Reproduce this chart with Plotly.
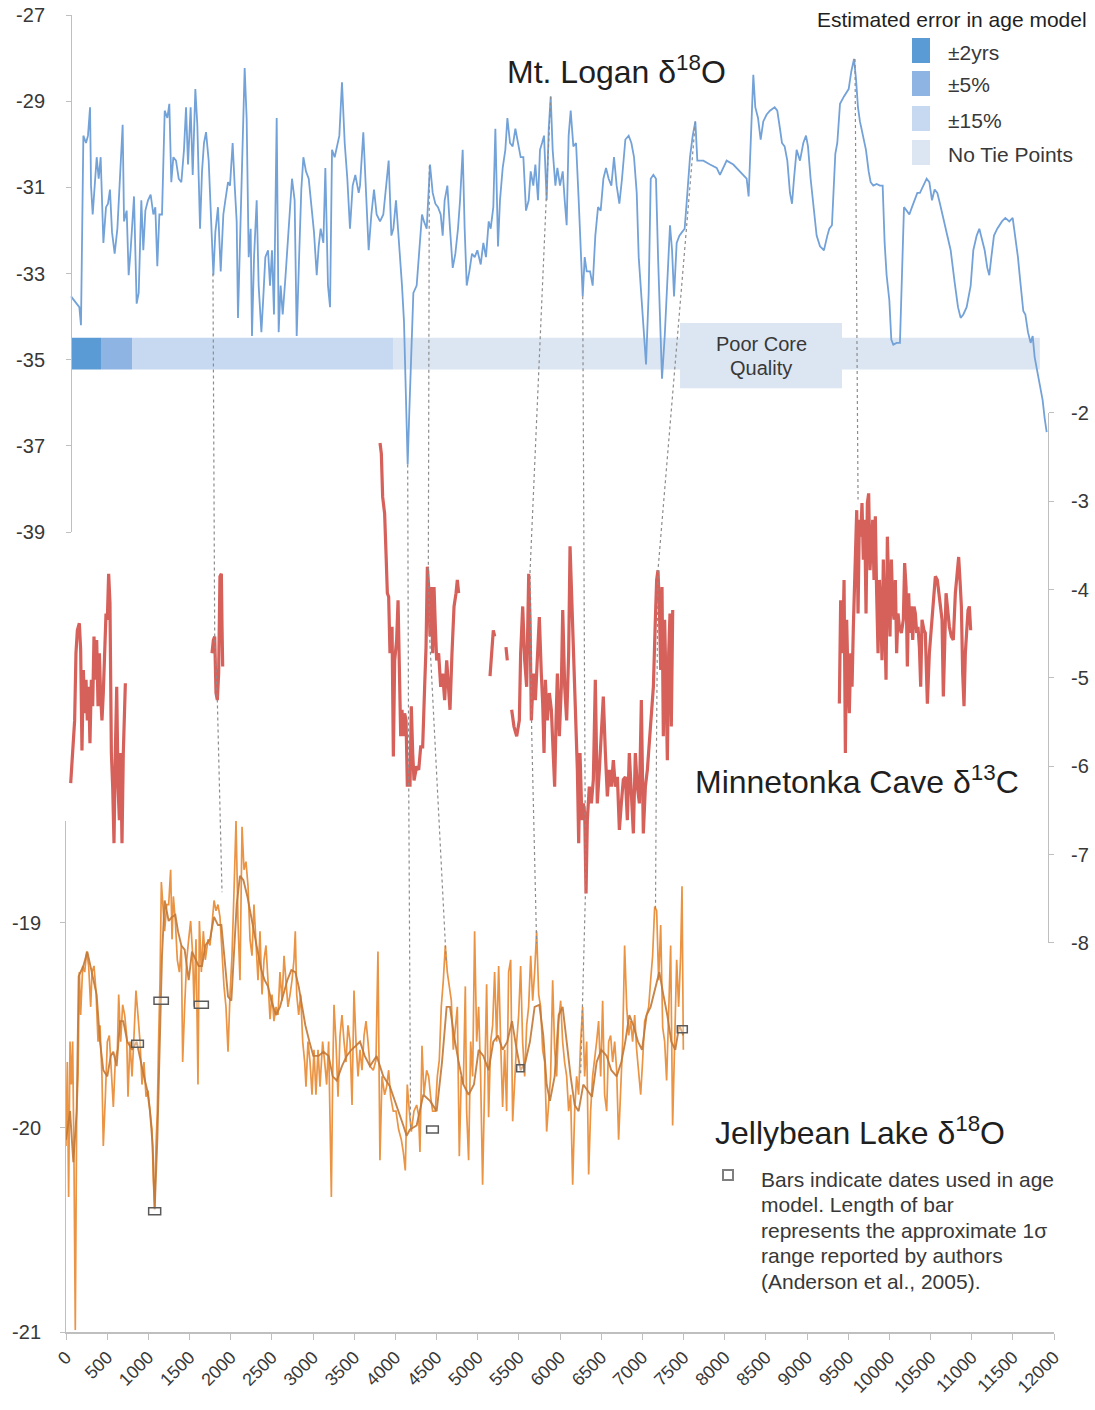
import plotly.graph_objects as go

# ---------------- data ----------------
logan_year = [
    61, 162, 182, 211, 243, 267, 292, 304, 324, 348,
    373, 397, 421, 454, 486, 510, 534, 559, 591, 624,
    648, 688, 705, 737, 761, 785, 826, 858, 883, 915,
    939, 964, 996, 1028, 1061, 1085, 1109, 1134, 1166, 1199,
    1231, 1255, 1279, 1304, 1336, 1369, 1401, 1433, 1458, 1482,
    1514, 1539, 1571, 1595, 1628, 1652, 1676, 1701, 1733, 1757,
    1790, 1814, 1846, 1879, 1911, 1935, 1968, 1992, 2024, 2049,
    2073, 2089, 2113, 2138, 2170, 2194, 2219, 2243, 2259, 2284,
    2316, 2340, 2373, 2397, 2421, 2454, 2478, 2502, 2526, 2559,
    2583, 2607, 2632, 2664, 2688, 2721, 2745, 2777, 2802, 2834,
    2858, 2883, 2915, 2948, 2980, 3012, 3045, 3069, 3093, 3126,
    3150, 3182, 3207, 3231, 3263, 3296, 3320, 3352, 3385, 3417,
    3449, 3482, 3514, 3555,
    3571, 3611, 3644, 3676, 3709, 3741, 3773, 3814, 3854, 3887,
    3919, 3952, 3976, 4008, 4033, 4057, 4081, 4105, 4130, 4150,
    4170, 4195, 4219, 4259, 4292, 4324, 4348, 4381, 4421, 4454,
    4486, 4518, 4551, 4575, 4599, 4632, 4664, 4697, 4729, 4761,
    4786, 4818, 4842, 4867, 4899, 4931, 4964, 4996, 5037, 5069,
    5101, 5134, 5158, 5190, 5215, 5247, 5271, 5304, 5336, 5361,
    5393, 5425, 5458, 5490, 5522, 5555, 5587, 5620, 5644, 5676,
    5701, 5733, 5757, 5782, 5806, 5838, 5863, 5887, 5911, 5944,
    5968, 6000, 6033, 6057, 6081, 6105, 6130, 6162, 6195, 6227,
    6251, 6276, 6300, 6324, 6365, 6397, 6429, 6462, 6494, 6527,
    6559, 6591, 6624, 6656, 6688, 6721, 6753, 6794, 6834, 6867,
    6899, 6932, 6956, 6988, 7021, 7045, 7077, 7102, 7134, 7166,
    7191, 7215, 7239, 7272, 7304, 7336, 7361, 7385, 7417, 7450,
    7482, 7514, 7547, 7579, 7612, 7644, 7668, 7741, 7822, 7903,
    7943, 7983, 8024, 8105, 8186, 8267, 8291, 8315, 8348, 8372,
    8405, 8437, 8469, 8510, 8550, 8607, 8639, 8672, 8696, 8728,
    8761, 8793, 8818, 8842, 8874, 8915, 8955, 8988, 9012, 9044,
    9085, 9117, 9158, 9206, 9247, 9271, 9303, 9320, 9344, 9368,
    9401, 9449, 9506, 9538, 9571, 9595, 9619, 9643, 9684, 9716,
    9749, 9773, 9805, 9846, 9886, 9919, 9943, 9967, 10000, 10024,
    10048, 10089, 10129, 10162, 10178, 10210, 10243, 10275, 10307, 10340,
    10372, 10413, 10453, 10486, 10518, 10550, 10583, 10615, 10656, 10696,
    10745, 10793, 10834, 10866, 10899, 10939, 10988, 11020, 11061, 11093,
    11125, 11158, 11190, 11214, 11239, 11271, 11311, 11368, 11409, 11457,
    11498, 11530, 11562, 11587, 11611, 11627, 11652, 11684, 11716, 11741,
    11765, 11797, 11830, 11862, 11886, 11911,
]
logan_d18o = [
    -33.53, -33.78, -34.20, -29.80, -29.97, -29.80, -29.14, -30.96, -31.63, -30.96,
    -30.30, -30.80, -30.30, -32.29, -31.46, -31.38, -31.05, -32.04, -32.54, -31.96,
    -30.96, -29.55, -31.79, -31.54, -33.04, -32.46, -31.21, -33.70, -33.45, -31.30,
    -32.46, -31.54, -31.30, -31.17, -31.63, -31.46, -32.83, -31.63, -31.63, -29.22,
    -29.39, -29.06, -30.88, -30.30, -30.38, -30.80, -30.88, -30.13, -29.14, -30.47,
    -29.14, -30.71, -28.72, -29.55, -31.96, -30.63, -29.97, -29.72, -30.38, -31.63,
    -33.04, -32.04, -31.46, -32.95, -31.63, -31.30, -30.88, -30.96, -29.97, -30.96,
    -31.79, -34.03, -32.21, -29.97, -28.23, -29.39, -32.62, -31.96, -34.45, -32.62,
    -31.30, -33.28, -34.36, -33.53, -32.62, -32.46, -33.28, -32.46, -33.95, -29.39,
    -34.36, -33.28, -33.95, -33.12, -32.46, -31.63, -30.80, -31.30, -34.45, -32.46,
    -31.05, -30.30, -30.63, -30.80, -31.46, -32.04, -33.04, -32.37, -31.96, -32.29,
    -30.55, -33.28, -33.78, -30.13, -30.30, -30.05, -29.80, -28.56, -29.97, -30.80,
    -31.96, -30.96, -30.71, -31.13,
    -30.96, -29.72, -30.96, -32.46, -31.63, -31.05, -31.63, -31.79, -31.63, -30.96,
    -30.38, -32.12, -31.96, -31.30, -31.96, -32.70, -33.28, -34.11, -35.77, -37.43,
    -36.19, -34.53, -33.45, -33.28, -32.46, -31.63, -31.79, -31.96, -30.47, -31.13,
    -31.38, -31.46, -31.63, -32.12, -31.30, -30.96, -31.96, -32.87, -32.54, -31.96,
    -31.30, -30.13, -31.96, -33.28, -32.95, -32.54, -32.62, -32.46, -32.79, -32.29,
    -32.62, -31.79, -31.96, -31.46, -29.64, -32.37, -31.30, -30.55, -30.13, -29.39,
    -29.97, -30.05, -29.64, -29.97, -30.30, -30.30, -31.54, -31.30, -30.63, -30.96,
    -30.47, -31.30, -30.13, -29.97, -29.80, -31.30, -29.64, -28.89, -30.13, -30.96,
    -30.55, -30.96, -30.63, -31.30, -31.88, -29.80, -29.22, -30.05, -29.97, -31.30,
    -32.62, -33.53, -32.62, -32.95, -32.95, -33.28, -32.12, -31.46, -31.54, -30.80,
    -30.55, -30.80, -30.96, -30.30, -30.96, -31.38, -30.80, -29.89, -29.80, -29.97,
    -30.30, -31.13, -32.62, -33.53, -34.53, -35.11, -33.45, -30.80, -30.71, -30.80,
    -32.62, -34.11, -35.44, -34.45, -33.28, -31.88, -32.46, -33.53, -32.29, -32.12,
    -32.04, -31.96, -31.13, -30.30, -29.80, -29.47, -30.38, -30.38, -30.47, -30.55,
    -30.71, -30.55, -30.38, -30.47, -30.63, -30.80, -31.21, -30.13, -28.39, -29.14,
    -29.39, -29.89, -29.47, -29.31, -29.22, -29.14, -29.22, -29.64, -29.97, -30.05,
    -30.38, -31.13, -31.38, -30.80, -30.13, -30.38, -29.97, -29.80, -30.05, -30.80,
    -31.54, -32.12, -32.37, -32.46, -32.12, -31.96, -31.88, -31.30, -30.22, -29.97,
    -29.06, -28.89, -28.72, -28.31, -28.02, -28.48, -29.14, -29.47, -29.80, -30.13,
    -30.63, -30.88, -30.96, -30.92, -30.96, -30.96, -32.29, -33.04, -33.62, -34.53,
    -34.65, -34.61, -34.61, -32.79, -31.46, -31.54, -31.63, -31.46, -31.30, -31.13,
    -31.13, -30.96, -30.80, -30.88, -31.30, -31.05, -31.13, -31.38, -31.71, -32.04,
    -32.46, -33.20, -33.78, -34.03, -33.95, -33.78, -33.28, -32.46, -32.12, -31.96,
    -32.21, -32.46, -32.87, -33.04, -32.62, -32.12, -31.96, -31.79, -31.71, -31.79,
    -31.71, -32.12, -32.62, -33.12, -33.53, -33.87, -33.95, -34.36, -34.61, -34.45,
    -34.94, -35.27, -35.61, -35.94, -36.35, -36.68,
]

# Minnetonka Cave d13C (None = gap in the record)
minn_year = [
    57, 81, 105, 121, 138, 162, 178, 194, 211, 227,
    243, 259, 275, 291, 308, 324, 340, 356, 373, 389,
    405, 421, 437, 453, 470, 486, 502, 518, 534, 551,
    567, 583, 599, 616, 632, 648, 664, 680, 696, 713, 721,
    None,
    1773, 1790, 1806, 1822, 1838, 1854, 1870, 1887, 1895, 1903,
    None,
    3814, 3830, 3846, 3870, 3887, 3903, 3919, 3935, 3960, 3976,
    3992, 4016, 4033, 4049, 4065, 4081, 4097, 4113, 4130, 4146,
    4162, 4178, 4194, 4211, 4227, 4259, 4284, 4308, 4332, 4356,
    4373, 4389, 4405, 4421, 4437, 4454, 4470, 4486, 4502, 4526,
    4551, 4575, 4599, 4624, 4648, 4664, 4688, 4713, 4737, 4753, 4769,
    None,
    5150, 5174, 5190, 5207,
    None,
    5344, 5360,
    None,
    5413, 5441, 5474, 5506, 5522, 5547, 5571, 5595, 5620, 5636,
    5652, 5676, 5701, 5725, 5749, 5773, 5790, 5806, 5822, 5846,
    5871, 5895, 5919, 5935, 5952, 5968, 5992, 6016, 6033, 6057,
    6081, 6105, 6122, 6146, 6170, 6194, 6211, 6227, 6243, 6267,
    6283, 6300, 6316, 6332, 6356, 6381, 6405, 6429, 6453, 6478,
    6502, 6526, 6551, 6575, 6599, 6624, 6648, 6672, 6697, 6721,
    6745, 6769, 6794, 6818, 6842, 6867, 6891, 6915, 6939, 6964,
    6988, 7012, 7037, 7061, 7085, 7109, 7134, 7158, 7174, 7190,
    7207, 7223, 7239, 7255, 7271, 7288, 7304, 7320, 7336, 7352, 7369,
    None,
    9393, 9409, 9433, 9450, 9466, 9482, 9498, 9514, 9531, 9547,
    9563, 9587, 9604, 9620, 9636, 9652, 9668, 9684, 9701, 9717,
    9733, 9749, 9765, 9781, 9798, 9814, 9830, 9846, 9863, 9879,
    9895, 9911, 9927, 9944, 9960, 9976, 9992, 10008, 10025, 10041,
    10057, 10073, 10089, 10105, 10122, 10146, 10170, 10186, 10203, 10219,
    10235, 10251, 10267, 10284, 10300, 10316, 10332, 10348, 10365, 10381,
    10397, 10421, 10437, 10462, 10486, 10510, 10535, 10559, 10583, 10608,
    10624, 10640, 10656, 10672, 10689, 10705, 10729, 10753, 10777, 10802,
    10826, 10842, 10858, 10875, 10891, 10907, 10923, 10939, 10956, 10972, 10988,
]
minn_d13c = [
    -6.19, -5.78, -5.48, -4.72, -4.46, -4.38, -4.68, -5.82, -4.91, -5.40,
    -5.02, -5.48, -5.10, -5.74, -5.02, -5.32, -4.53, -5.02, -4.57, -5.32,
    -4.72, -5.21, -5.48, -5.17, -4.72, -4.27, -4.34, -3.82, -4.15, -5.85,
    -6.23, -6.87, -5.85, -5.10, -6.23, -6.61, -5.85, -6.87, -5.85, -5.10, -5.06,
    None,
    -4.72, -4.57, -4.53, -5.17, -5.25, -4.95, -3.85, -3.82, -4.42, -4.87,
    None,
    -2.34, -2.46, -2.95, -3.14, -3.59, -4.04, -4.08, -4.72, -4.42, -5.89,
    -4.80, -4.57, -4.12, -4.72, -5.66, -5.36, -5.66, -5.40, -5.48, -6.23,
    -6.04, -6.23, -5.32, -5.85, -6.16, -6.00, -6.04, -5.78, -5.78, -5.10,
    -4.65, -3.74, -3.97, -4.53, -3.97, -4.72, -3.97, -4.42, -4.80, -4.72,
    -5.10, -4.95, -5.25, -4.80, -5.17, -5.36, -4.72, -4.19, -4.04, -3.89, -4.04,
    None,
    -4.98, -4.65, -4.46, -4.53,
    None,
    -4.65, -4.80,
    None,
    -5.36, -5.55, -5.66, -5.48, -4.72, -4.19, -4.80, -5.10, -3.82, -4.34,
    -5.48, -4.95, -5.25, -4.72, -4.31, -4.95, -5.29, -5.85, -5.02, -5.48,
    -5.17, -5.36, -5.85, -6.23, -5.48, -4.95, -5.66, -5.10, -4.23, -5.10,
    -5.48, -4.72, -3.51, -4.19, -4.72, -5.48, -6.04, -6.87, -5.85, -6.61,
    -6.42, -6.53, -7.44, -6.61, -6.23, -6.42, -6.15, -5.02, -6.42, -6.04,
    -5.55, -5.21, -5.85, -6.34, -6.04, -6.23, -5.93, -6.23, -6.12, -6.72,
    -6.42, -6.15, -6.12, -6.61, -5.85, -6.42, -6.76, -5.85, -6.23, -6.42,
    -5.25, -6.76, -6.23, -6.04, -5.70, -5.48, -5.10, -4.34, -3.89, -3.78,
    -4.19, -4.91, -3.97, -5.66, -4.34, -5.10, -5.93, -4.72, -4.27, -5.55, -4.23,
    None,
    -5.29, -4.12, -4.72, -3.89, -5.85, -4.34, -5.02, -5.40, -4.72, -5.10,
    -4.42, -3.59, -3.10, -4.27, -3.21, -3.40, -3.02, -3.66, -3.21, -4.27,
    -3.02, -2.91, -3.78, -3.51, -3.21, -3.89, -3.17, -4.04, -4.72, -3.89,
    -4.19, -4.80, -3.66, -4.34, -5.02, -3.40, -4.19, -4.53, -3.66, -4.19,
    -4.34, -3.89, -4.72, -4.27, -4.42, -4.49, -4.34, -3.70, -3.97, -4.87,
    -4.04, -4.49, -4.19, -4.57, -4.19, -4.27, -4.49, -4.42, -4.65, -5.10,
    -4.34, -4.46, -4.49, -5.29, -4.72, -4.42, -4.04, -3.85, -3.89, -4.12,
    -4.27, -4.34, -5.21, -4.72, -4.04, -4.19, -4.42, -4.53, -4.57, -4.04,
    -3.74, -3.63, -3.89, -4.19, -4.95, -5.32, -4.72, -4.42, -4.23, -4.19, -4.46,
]

# Jellybean Lake d18O - high resolution record
jelly_year_raw = [
    0, 16, 32, 49, 65, 81, 97, 113, 130, 146,
    162, 178, 203, 227, 251, 275, 300, 316, 340, 364,
    389, 413, 437, 453, 478, 502, 526, 551, 575, 599,
    624, 640, 664, 688, 713, 737, 753, 777, 802, 826,
    850, 874, 899, 923, 947, 972, 996, 1020, 1044, 1061,
    1077, 1093, 1109, 1126, 1142, 1158, 1174, 1198, 1223, 1247,
    1271, 1288, 1304, 1328, 1352, 1377, 1401, 1417, 1441, 1466,
    1490, 1514, 1539, 1555, 1579, 1603, 1620, 1644, 1668, 1692,
    1725, 1749, 1773, 1798, 1822, 1846, 1870, 1895, 1919, 1943,
    1968, 1992, 2016, 2041, 2065, 2089, 2113, 2138, 2162, 2186,
    2211, 2235, 2259, 2283, 2308, 2332, 2356, 2381, 2405, 2429,
    2453, 2478, 2502, 2526, 2551, 2575, 2599, 2624, 2648, 2672,
    2696, 2721, 2745, 2769, 2785, 2802, 2826, 2850, 2875, 2899,
    2915, 2939, 2964, 2988, 3012, 3036, 3061, 3085, 3117, 3142,
    3166, 3190, 3206, 3223, 3239, 3255, 3279, 3304, 3328, 3352,
    3377, 3401, 3425, 3450, 3474, 3498, 3522, 3547, 3571, 3595,
    3620, 3644, 3668,
    3692, 3732, 3765, 3789, 3813, 3838, 3870, 3894, 3919, 3943,
    3975, 4008, 4040, 4073, 4097, 4121, 4145, 4170, 4194, 4226,
    4259, 4283, 4299, 4324, 4348, 4380, 4405, 4429, 4453, 4486,
    4510, 4534, 4558, 4583, 4607, 4631, 4656, 4680, 4704, 4728,
    4753, 4777, 4801, 4826, 4850, 4866, 4890, 4915, 4939, 4963,
    4988, 5012, 5036, 5060, 5085, 5109, 5133, 5158, 5182, 5206,
    5231, 5255, 5279, 5303, 5328, 5352, 5376, 5401, 5425, 5449,
    5474, 5498, 5522, 5546, 5571, 5595, 5619, 5644, 5668, 5692,
    5716, 5741, 5765, 5789, 5814, 5838, 5862, 5886, 5911, 5935,
    5959, 5984, 6008, 6032, 6056, 6081, 6105, 6129, 6154, 6178,
    6202, 6226, 6251, 6275, 6299, 6324, 6348, 6372, 6396, 6421,
    6445, 6469, 6494, 6518, 6542, 6567, 6591, 6615, 6639, 6664,
    6688, 6712, 6737, 6761, 6785, 6810, 6834, 6858, 6882, 6907,
    6931, 6955, 6980, 7004, 7028, 7052, 7077, 7101, 7125, 7150,
    7174, 7198, 7223, 7247, 7271, 7295, 7320, 7344, 7368, 7393,
    7417, 7441, 7465, 7482, 7498,
]
jelly_d18o_raw = [
    -20.09, -19.68, -20.34, -19.58, -19.79, -19.58, -20.17, -20.99, -19.92, -19.75,
    -19.24, -19.45, -19.21, -19.24, -19.14, -19.21, -19.41, -19.24, -19.21, -19.33,
    -19.58, -19.50, -19.75, -20.09, -19.85, -19.58, -19.55, -19.75, -19.90, -19.67,
    -19.62, -19.35, -19.58, -19.40, -19.45, -19.55, -19.85, -19.58, -19.75, -19.55,
    -19.33, -19.45, -19.58, -19.79, -19.68, -19.85, -19.82, -19.92, -20.01, -20.26,
    -20.40, -20.09, -19.92, -19.55, -19.28, -18.80, -18.91, -19.04, -18.91, -18.91,
    -18.74, -19.08, -18.87, -18.99, -19.18, -19.24, -19.11, -19.68, -19.41, -19.18,
    -19.08, -18.99, -19.16, -19.41, -19.08, -19.79, -18.99, -19.24, -19.04, -19.18,
    -19.08, -19.11, -19.01, -18.89, -18.94, -18.91, -18.97, -19.14, -19.31, -19.41,
    -19.63, -19.35, -19.16, -18.84, -18.50, -18.99, -19.28, -18.53, -18.74, -18.70,
    -18.82, -19.08, -19.16, -18.91, -19.08, -19.28, -19.04, -19.35, -19.18, -19.11,
    -19.28, -19.47, -19.35, -19.48, -19.41, -19.45, -19.24, -19.38, -19.16, -19.31,
    -19.41, -19.35, -19.28, -19.18, -19.04, -19.35, -19.45, -19.35, -19.58, -19.68,
    -19.80, -19.58, -19.68, -19.84, -19.62, -19.84, -19.62, -19.80, -19.58, -19.68,
    -19.79, -19.58, -19.92, -20.34, -19.75, -19.40, -19.58, -19.85, -19.55, -19.45,
    -19.58, -19.68, -19.50, -19.58, -19.89, -19.33, -19.58, -19.75, -19.62, -19.72,
    -19.55, -19.48, -19.58,
    -19.70, -19.72, -19.67, -19.14, -20.16, -19.75, -19.84, -19.80, -19.72, -19.85,
    -19.92, -19.92, -20.01, -20.06, -20.12, -20.21, -19.79, -19.92, -20.02, -19.92,
    -19.89, -19.94, -20.12, -19.60, -19.84, -19.72, -19.75, -19.85, -19.92, -19.92,
    -19.75, -19.67, -19.41, -19.28, -19.11, -19.24, -19.31, -19.38, -19.62, -19.50,
    -19.41, -20.14, -19.75, -19.79, -19.31, -19.92, -20.16, -19.58, -19.75, -19.04,
    -19.58, -19.41, -19.75, -20.28, -19.75, -19.30, -19.95, -19.58, -19.50, -19.24,
    -19.58, -19.21, -19.58, -19.90, -19.62, -19.92, -19.24, -19.18, -19.97, -19.75,
    -19.58, -19.45, -19.21, -19.58, -19.75, -19.50, -19.41, -19.16, -19.38, -19.24,
    -19.04, -19.35, -19.41, -19.62, -19.68, -20.02, -19.89, -19.75, -19.28, -19.62,
    -19.75, -19.48, -19.38, -19.58, -19.68, -19.75, -19.92, -19.84, -20.28, -19.92,
    -19.75, -19.84, -19.58, -19.41, -19.75, -19.58, -20.23, -19.92, -19.75, -19.67,
    -19.58, -19.48, -19.75, -19.38, -19.84, -19.92, -19.58, -19.55, -19.68, -19.58,
    -19.72, -20.06, -19.80, -19.58, -19.11, -19.41, -19.55, -19.48, -19.58, -19.45,
    -19.62, -19.72, -19.84, -19.67, -19.48, -19.45, -19.41, -19.28, -19.16, -18.92,
    -18.94, -19.28, -19.01, -19.51, -19.58, -19.77, -19.41, -19.11, -19.99, -19.58,
    -19.18, -19.41, -19.16, -18.82, -19.62,
]

# Jellybean Lake d18O - smoothed record
jelly_year_smooth = [
    0, 49, 89, 130, 154, 211, 259, 316, 372, 413,
    453, 502, 543, 575, 615, 656, 696, 745, 802, 858,
    907, 947, 988, 1020, 1053, 1077, 1109, 1142, 1166, 1198,
    1247, 1288, 1328, 1360, 1401, 1441, 1490, 1530, 1571, 1611,
    1652, 1692, 1749, 1798, 1846, 1887, 1927, 1968, 2008, 2041,
    2073, 2113, 2154, 2203, 2243, 2283, 2324, 2373, 2413, 2453,
    2494, 2551, 2599, 2640, 2688, 2737, 2785, 2826, 2866, 2907,
    2956, 3004, 3069, 3126, 3190, 3239, 3288, 3352, 3409, 3466,
    3522, 3571, 3628,
    3692, 3773, 3854, 3935, 4016, 4097, 4137, 4178, 4259, 4340,
    4421, 4502, 4567, 4623, 4664, 4712, 4769, 4826, 4890, 4955,
    5012, 5069, 5133, 5190, 5247, 5303, 5360, 5417, 5474, 5522,
    5579, 5635, 5692, 5749, 5797, 5838, 5878, 5935, 5984, 6032,
    6081, 6129, 6178, 6226, 6283, 6340, 6388, 6445, 6502, 6567,
    6623, 6688, 6745, 6793, 6842, 6890, 6947, 6996, 7052, 7101,
    7158, 7206, 7255, 7303, 7352, 7400, 7449, 7498,
]
jelly_d18o_smooth = [
    -20.06, -19.92, -20.17, -19.92, -19.26, -19.21, -19.14, -19.24, -19.35, -19.58,
    -19.72, -19.75, -19.65, -19.63, -19.70, -19.48, -19.48, -19.58, -19.62, -19.58,
    -19.68, -19.75, -19.82, -19.92, -20.09, -20.40, -20.06, -19.58, -19.16, -18.89,
    -18.99, -18.97, -18.96, -19.04, -19.11, -19.13, -19.28, -19.14, -19.18, -19.21,
    -19.21, -19.11, -19.08, -18.97, -19.01, -19.01, -19.18, -19.36, -19.38, -19.14,
    -18.91, -18.77, -18.79, -18.87, -18.96, -19.04, -19.13, -19.23, -19.28, -19.31,
    -19.38, -19.45, -19.41, -19.35, -19.28, -19.23, -19.24, -19.31, -19.41, -19.50,
    -19.58, -19.65, -19.65, -19.63, -19.65, -19.75, -19.77, -19.70, -19.65, -19.62,
    -19.60, -19.58, -19.65,
    -19.70, -19.65, -19.75, -19.80, -19.89, -19.99, -20.04, -20.01, -19.99, -19.84,
    -19.87, -19.92, -19.68, -19.41, -19.41, -19.55, -19.68, -19.79, -19.84, -19.79,
    -19.62, -19.65, -19.72, -19.58, -19.55, -19.62, -19.58, -19.48, -19.62, -19.72,
    -19.68, -19.58, -19.41, -19.40, -19.55, -19.79, -19.87, -19.75, -19.45, -19.41,
    -19.58, -19.75, -19.89, -19.92, -19.79, -19.82, -19.85, -19.68, -19.62, -19.65,
    -19.72, -19.75, -19.68, -19.58, -19.45, -19.50, -19.58, -19.62, -19.45, -19.41,
    -19.31, -19.24, -19.35, -19.45, -19.58, -19.62, -19.50, -19.55,
]

# axis ticks
x_ticks = list(range(0, 12001, 500))
logan_ticks = [-27, -29, -31, -33, -35, -37, -39]
minn_ticks = [-2, -3, -4, -5, -6, -7, -8]
jelly_ticks = [-19, -20, -21]

# age-model error band along Mt. Logan record
band_labels = ["±2yrs", "±5%", "±15%", "No Tie Points"]
band_colors = ["#5B9BD5", "#8DB4E2", "#C6D9F1", "#DCE6F2"]
band_start = [61, 425, 802, 3972]
band_end = [425, 802, 3972, 11828]
band_top = -34.49
band_bottom = -35.23

poor_core_x = [7458, 9425]
poor_core_y = [-34.15, -35.66]

# Jellybean Lake age-model dates (1 sigma ranges)
date_lo = [798, 1069, 1004, 1559, 4380, 5474, 7425]
date_hi = [940, 1243, 1150, 1729, 4522, 5563, 7546]
date_val = [-19.59, -19.38, -20.41, -19.40, -20.01, -19.71, -19.52]

# tie lines between records: (record, year, value)
tie_series = [
    ["L", "M", "M", "J"],
    ["L", "M", "J"],
    ["L", "M", "M", "J"],
    ["L", "M", "M", "J"],
    ["L", "M", "J"],
    ["L", "M", "M", "J"],
    ["L", "M"],
]
tie_years = [
    [1785, 1806, 1838, 1895],
    [4150, 4162, 4185],
    [4413, 4401, 4420, 4620],
    [5887, 5636, 5656, 5716],
    [6276, 6310, 6250],
    [7644, 7190, 7174, 7160],
    [9583, 9620],
]
tie_vals = [
    [-33.0, -4.53, -5.25, -18.85],
    [-37.43, -6.1, -20.0],
    [-30.5, -3.72, -4.6, -19.2],
    [-28.89, -3.8, -5.6, -19.1],
    [-33.53, -7.4, -19.75],
    [-29.47, -3.78, -5.48, -18.93],
    [-28.02, -2.98],
]

note_lines = [
    "Bars indicate dates used in age",
    "model. Length of bar",
    "represents the approximate 1σ",
    "range reported by authors",
    "(Anderson et al., 2005).",
]

# ---------------- layout geometry ----------------
W, H = 1095, 1410
ML, MR, MT, MB = 66, 41, 15, 78
PW, PH = W - ML - MR, H - MT - MB

axes_spec = {
    "L": dict(domain=[0.6074, 1.0], range=[-39, -27]),
    "M": dict(domain=[0.2954, 0.6978], range=[-8, -2]),
    "J": dict(domain=[0.0, 0.3882], range=[-21, -18.5]),
}


def to_frac(series, v):
    d0, d1 = axes_spec[series]["domain"]
    r0, r1 = axes_spec[series]["range"]
    return d0 + (v - r0) / (r1 - r0) * (d1 - d0)


def px(xp):
    return (xp - ML) / PW


def py(yp):
    return (H - MB - yp) / PH


FONT = "Liberation Sans, Arial, sans-serif"
TXT = "#383838"
DARK = "#1F1F1F"
AXC = "#BFBFBF"

fig = go.Figure()

# Jellybean records
fig.add_trace(go.Scatter(x=jelly_year_raw, y=jelly_d18o_raw, mode="lines",
                         line=dict(color="#EA9444", width=1.7),
                         xaxis="x", yaxis="y3", showlegend=False, hoverinfo="skip"))
fig.add_trace(go.Scatter(x=jelly_year_smooth, y=jelly_d18o_smooth, mode="lines",
                         line=dict(color="#C27836", width=1.9), opacity=0.9,
                         xaxis="x", yaxis="y3", showlegend=False, hoverinfo="skip"))

# Minnetonka
fig.add_trace(go.Scatter(x=minn_year, y=minn_d13c, mode="lines", connectgaps=False,
                         line=dict(color="#D6605A", width=3.2),
                         xaxis="x", yaxis="y2", showlegend=False, hoverinfo="skip"))

# Logan
fig.add_trace(go.Scatter(x=logan_year, y=logan_d18o, mode="lines",
                         line=dict(color="#73A2D8", width=1.8),
                         xaxis="x", yaxis="y", showlegend=False, hoverinfo="skip"))

# tie lines on a hidden axis spanning the full plot height
for ser, yrs, vals in zip(tie_series, tie_years, tie_vals):
    fig.add_trace(go.Scatter(x=yrs, y=[to_frac(s, v) for s, v in zip(ser, vals)],
                             mode="lines", line=dict(color="#8C8C8C", width=1.2, dash="dot"),
                             xaxis="x", yaxis="y4", showlegend=False, hoverinfo="skip"))

shapes = []
# error band
for x0, x1, c in zip(band_start, band_end, band_colors):
    shapes.append(dict(type="rect", xref="x", yref="y", x0=x0, x1=x1,
                       y0=band_bottom, y1=band_top, fillcolor=c, line=dict(width=0),
                       layer="below"))
shapes.append(dict(type="rect", xref="x", yref="y", x0=poor_core_x[0], x1=poor_core_x[1],
                   y0=poor_core_y[1], y1=poor_core_y[0], fillcolor="#DCE6F2",
                   line=dict(width=0), layer="below"))
# age-model date bars
for lo, hi, v in zip(date_lo, date_hi, date_val):
    shapes.append(dict(type="rect", xref="x", yref="y3", x0=lo, x1=hi,
                       ysizemode="pixel", yanchor=v, y0=-3.5, y1=3.5,
                       fillcolor="rgba(255,255,255,0.35)",
                       line=dict(color="#5A5A5A", width=1.5)))
# legend swatches
sw_top = [38, 71, 106, 140]
for t, c in zip(sw_top, band_colors):
    shapes.append(dict(type="rect", xref="paper", yref="paper", x0=px(912), x1=px(930),
                       y0=py(t + 25), y1=py(t), fillcolor=c, line=dict(width=0)))
# bars legend icon
shapes.append(dict(type="rect", xref="paper", yref="paper", x0=px(723), x1=px(733),
                   y0=py(1180), y1=py(1170), fillcolor="rgba(255,255,255,0)",
                   line=dict(color="#7F7F7F", width=2)))

annotations = [
    dict(text="Mt. Logan δ<sup>18</sup>O", x=px(616), y=py(70), font=dict(size=32)),
    dict(text="Minnetonka Cave δ<sup>13</sup>C", x=px(857), y=py(780), font=dict(size=32)),
    dict(text="Jellybean Lake δ<sup>18</sup>O", x=px(860), y=py(1131), font=dict(size=32)),
    dict(text="Estimated error in age model", x=px(1089), y=py(19), xanchor="right",
         font=dict(size=21)),
]
for i, line in enumerate(note_lines):
    annotations.append(dict(text=line, x=px(759), y=py(1179 + 25.5 * i), xanchor="left",
                            font=dict(size=21, color=TXT)))
for lab, t in zip(band_labels, sw_top):
    annotations.append(dict(text=lab, x=px(946), y=py(t + 14), xanchor="left",
                            font=dict(size=21, color=TXT)))
for a in annotations:
    a.setdefault("xref", "paper")
    a.setdefault("yref", "paper")
    a.setdefault("showarrow", False)
    a.setdefault("xanchor", "center")
    a.setdefault("yanchor", "middle")
    f = dict(family=FONT, color=DARK)
    f.update(a["font"])
    a["font"] = f
for txt, shift in zip(["Poor Core", "Quality"], [12, -12]):
    annotations.append(dict(text=txt, xref="x", yref="y",
                            x=sum(poor_core_x) / 2, y=sum(poor_core_y) / 2, yshift=shift,
                            showarrow=False, font=dict(family=FONT, size=20, color=TXT)))

common_y = dict(showgrid=False, zeroline=False, showline=True, linecolor=AXC, linewidth=1,
                ticks="outside", ticklen=5, tickcolor=AXC, automargin=False,
                tickfont=dict(family=FONT, size=20, color=TXT))

fig.update_layout(
    width=W, height=H, autosize=False,
    margin=dict(l=ML, r=MR, t=MT, b=MB, autoexpand=False),
    paper_bgcolor="white", plot_bgcolor="rgba(0,0,0,0)",
    showlegend=False,
    xaxis=dict(range=[0, 12000], domain=[0, 1], anchor="y3", tickvals=x_ticks,
               ticktext=[str(t) for t in x_ticks], tickangle=-45, automargin=False,
               showgrid=False, zeroline=False, showline=True, linecolor=AXC, linewidth=1.5,
               ticks="outside", ticklen=6, tickcolor=AXC,
               tickfont=dict(family=FONT, size=18, color=TXT)),
    yaxis=dict(domain=axes_spec["L"]["domain"], range=axes_spec["L"]["range"],
               tickvals=logan_ticks, ticktext=[str(t) for t in logan_ticks],
               anchor="free", position=px(71), side="left", ticklabelstandoff=17,
               **common_y),
    yaxis2=dict(domain=axes_spec["M"]["domain"], range=axes_spec["M"]["range"],
                tickvals=minn_ticks, ticktext=[str(t) for t in minn_ticks],
                anchor="free", position=px(1048), side="right", ticklabelstandoff=13,
                **common_y),
    yaxis3=dict(domain=axes_spec["J"]["domain"], range=axes_spec["J"]["range"],
                tickvals=jelly_ticks, ticktext=[str(t) for t in jelly_ticks],
                anchor="x", side="left", ticklabelstandoff=15, **common_y),
    yaxis4=dict(domain=[0, 1], range=[0, 1], anchor="x", visible=False, automargin=False),
    shapes=shapes,
    annotations=annotations,
)

fig.write_html(
    "out.html",
    config={"displayModeBar": False},
    post_script="document.body.style.margin='0';document.body.style.overflow='hidden';",
)
